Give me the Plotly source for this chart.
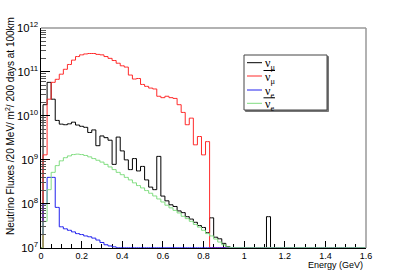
import plotly.graph_objects as go

# Bin centres (GeV), 20 MeV bins
energy = [round(0.02 * i, 2) for i in range(81)]

# nu_mu (black)
numu = [0, 1.8e10, 5.8e10, 2.4e10, 7.9e9, 6.5e9, 6.3e9, 6.6e9, 7.2e9, 6.2e9,
        5.8e9, 5.5e9, 4.2e9, 4.8e9, 2.1e9, 3.5e9, 3.2e9, 2.8e9, 7.9e8, 3.3e9,
        1.6e9, 1.0e9, 6.0e8, 1.07e9, 5.6e8, 7.1e8, 3.5e8, 2.4e8, 2.1e8, 1.2e9,
        1.5e8, 1.17e8, 9.5e7, 8.7e7, 6.9e7, 6.3e7, 5.1e7, 4.5e7, 3.8e7, 3.2e7,
        2.9e7, 2.2e7, 4.8e7, 1.74e7, 1.6e7, 1.26e7, 1.07e7, 0, 0, 0,
        0, 0, 0, 0, 0, 0, 5.1e7, 0, 0, 0,
        0, 0, 0, 0, 0, 0, 0, 0, 0, 0,
        0, 0, 0, 0, 0, 0, 0, 0, 0, 0, 0]

# anti nu_mu (red)
anumu = [0, 1.3e9, 2.4e10, 5.8e10, 6.8e10, 8.9e10, 1.15e11, 1.48e11, 1.86e11, 2.24e11,
         2.45e11, 2.57e11, 2.63e11, 2.63e11, 2.51e11, 2.45e11, 2.24e11, 2.04e11, 1.82e11, 1.58e11,
         1.38e11, 1.29e11, 8.5e10, 6.9e10, 7.1e10, 5.2e10, 4.7e10, 4.3e10, 4.1e10, 2.8e10,
         2.6e10, 2.8e10, 2.6e10, 2.5e10, 1.8e10, 1.2e10, 6.3e9, 8.9e9, 2.2e9, 3.4e9,
         1.3e9, 2.6e9, 0, 0, 0, 0, 0, 0, 0, 0,
         0, 0, 0, 0, 0, 0, 0, 0, 0, 0,
         0, 0, 0, 0, 0, 0, 0, 0, 0, 0,
         0, 0, 0, 0, 0, 0, 0, 0, 0, 0, 0]

# nu_e (blue)
nue = [2.0e7, 1.0e8, 4.0e8, 4.0e8, 8.3e7, 3.0e7, 2.7e7, 2.5e7, 2.3e7, 2.1e7,
       2.0e7, 1.86e7, 1.78e7, 1.66e7, 1.5e7, 1.32e7, 1.17e7, 1.1e7, 1.05e7, 0,
       0, 0, 0, 0, 0, 0, 0, 0, 0, 0,
       0, 0, 0, 0, 0, 0, 0, 0, 0, 0,
       0, 0, 0, 0, 0, 0, 0, 0, 0, 0,
       0, 0, 0, 0, 0, 0, 0, 0, 0, 0,
       0, 0, 0, 0, 0, 0, 0, 0, 0, 0,
       0, 0, 0, 0, 0, 0, 0, 0, 0, 0, 0]

# anti nu_e (green)
anue = [0, 4.0e7, 2.1e8, 5.2e8, 7.4e8, 9.5e8, 1.12e9, 1.23e9, 1.32e9, 1.35e9,
        1.32e9, 1.26e9, 1.17e9, 1.07e9, 9.8e8, 8.9e8, 7.9e8, 6.9e8, 6.0e8, 5.2e8,
        4.6e8, 4.0e8, 3.5e8, 3.0e8, 2.6e8, 2.3e8, 2.0e8, 1.74e8, 1.51e8, 1.29e8,
        1.1e8, 9.3e7, 8.1e7, 7.1e7, 6.2e7, 5.2e7, 4.6e7, 4.0e7, 3.4e7, 2.95e7,
        2.5e7, 2.1e7, 1.86e7, 1.58e7, 1.35e7, 1.17e7, 1.05e7, 0, 0, 0,
        0, 0, 0, 0, 0, 0, 0, 0, 0, 0,
        0, 0, 0, 0, 0, 0, 0, 0, 0, 0,
        0, 0, 0, 0, 0, 0, 0, 0, 0, 0, 0]

colors = ["#000000", "#ff2a2a", "#2222ee", "#80dd80"]
legend_labels = ["ν<sub>μ</sub>", "ν<sub>μ</sub>", "ν<sub>e</sub>", "ν<sub>e</sub>"]
legend_bar = [False, True, False, True]

FLOOR = 1e7
FONT = "Liberation Sans, Arial, Helvetica, sans-serif"

fig = go.Figure()
for vals, col in zip([numu, anumu, nue, anue], colors):
    y = [v if v > 0 else FLOOR for v in vals]
    fig.add_trace(go.Scatter(x=energy, y=y, mode="lines",
                             line=dict(color=col, width=1, shape="hvh"),
                             showlegend=False, hoverinfo="skip"))

W, H = 407, 277
L, R, T, B = 41, 41, 28, 29
pw, ph = W - L - R, H - T - B


def px(x):
    return (x - L) / pw


def py(y):
    return (H - B - y) / ph


fig.update_layout(
    width=W, height=H,
    margin=dict(l=L, r=R, t=T, b=B, autoexpand=False),
    paper_bgcolor="white", plot_bgcolor="white",
    font=dict(family=FONT, size=9, color="black"),
    showlegend=False, hovermode=False,
    xaxis=dict(range=[0, 1.6], dtick=0.2, tick0=0, ticks="inside", ticklen=7,
               tickcolor="black", showline=True, linecolor="black", linewidth=1,
               showgrid=False, zeroline=False, layer="below traces",
               automargin=False, ticklabelstandoff=-1,
               minor=dict(dtick=0.05, ticks="inside", ticklen=4, tickcolor="black"),
               tickfont=dict(size=9)),
    yaxis=dict(type="log", range=[6.995, 12.0], dtick=1, exponentformat="power",
               ticks="inside", ticklen=9, tickcolor="black", automargin=False,
               showline=True, linecolor="black", linewidth=1,
               showgrid=False, zeroline=False,
               minor=dict(dtick="D1", ticks="inside", ticklen=5, tickcolor="#555555"),
               tickfont=dict(size=9)),
)

# frame top and right (grey as in the reference)
fig.add_shape(type="line", xref="paper", yref="paper", x0=0, x1=1, y0=1, y1=1,
              line=dict(color="#999999", width=1.5), layer="above")
fig.add_shape(type="line", xref="paper", yref="paper", x0=1, x1=1, y0=0, y1=1,
              line=dict(color="#999999", width=1.5), layer="above")

# axis titles
fig.add_annotation(text="Neutrino Fluxes /20 MeV/ m<sup>2</sup>/ 200 days at 100km",
                   xref="paper", yref="paper", x=px(10), y=py(126),
                   xanchor="center", yanchor="middle", textangle=-90,
                   showarrow=False, font=dict(size=10))
fig.add_annotation(text="Energy (GeV)", xref="paper", yref="paper",
                   x=px(365), y=py(265), xanchor="right", yanchor="middle",
                   showarrow=False, font=dict(size=9))

# legend box (drawn by hand)
bx0, bx1, by0, by1 = 244, 327, 55, 110
fig.add_shape(type="rect", xref="paper", yref="paper",
              x0=px(bx0 + 1.5), x1=px(bx1 + 1.5), y0=py(by1 + 1.5), y1=py(by0 + 1.5),
              line=dict(color="#777777", width=1), fillcolor="#777777", layer="above")
fig.add_shape(type="rect", xref="paper", yref="paper",
              x0=px(bx0), x1=px(bx1), y0=py(by1), y1=py(by0),
              line=dict(color="#444444", width=1), fillcolor="white", layer="above")
ys = [62.7, 76, 90, 103.3]
for lab, col, bar, yy in zip(legend_labels, colors, legend_bar, ys):
    fig.add_shape(type="line", xref="paper", yref="paper",
                  x0=px(247), x1=px(262), y0=py(yy), y1=py(yy),
                  line=dict(color=col, width=1), layer="above")
    fig.add_annotation(text=lab, xref="paper", yref="paper", x=px(263), y=py(yy + 1.5),
                       xanchor="left", yanchor="middle", showarrow=False,
                       font=dict(family="Liberation Serif, Times New Roman, serif", size=12))
    if bar:
        fig.add_shape(type="line", xref="paper", yref="paper",
                      x0=px(263.5), x1=px(275), y0=py(yy - 5.5), y1=py(yy - 5.5),
                      line=dict(color="black", width=1), layer="above")

fig.write_html("out.html", config={"displayModeBar": False},
               post_script="document.body.style.margin='0px';document.body.style.padding='0px';")
